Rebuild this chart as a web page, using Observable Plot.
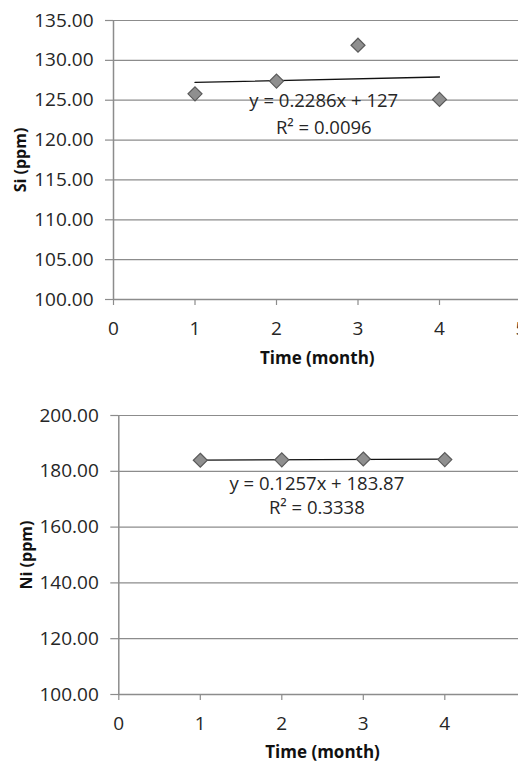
<!DOCTYPE html>
<html>
<head>
<meta charset="utf-8">
<script src="https://cdn.jsdelivr.net/npm/d3@7"></script>
<script src="https://cdn.jsdelivr.net/npm/@observablehq/plot@0.6"></script>
<style>
  html, body { margin: 0; padding: 0; background: #fff; overflow: hidden; width: 518px; }
  #wrap { width: 518px; overflow: hidden; }
  #wrap svg { display: block; max-width: none !important; height: auto; }
</style>
</head>
<body>
<div id="wrap"></div>
<script>
// ---- Data ----
const months = [1, 2, 3, 4];
const siValues = [125.8, 127.4, 131.9, 125.1];
const niValues = [183.95, 184.1, 184.4, 184.2];

const siTrend = { slope: 0.2286, intercept: 127 };
const niTrend = { slope: 0.1257, intercept: 183.87 };

const siLabels = ["y = 0.2286x + 127", "R² = 0.0096"];
const niLabels = ["y = 0.1257x + 183.87", "R² = 0.3338"];

const siXTicks = [0, 1, 2, 3, 4, 5];
const niXTicks = [0, 1, 2, 3, 4];
const siTicks = [100, 105, 110, 115, 120, 125, 130, 135];
const niTicks = [100, 120, 140, 160, 180, 200];

// ---- Styles ----
const FONT = "'Open Sans', sans-serif";
const GRID = "#8c8c8c";
const TEXT = "#262626";

function makeChart(opts) {
  const pts = months.map((m, i) => ({ x: m, y: opts.values[i] }));
  const trend = [months[0], months[months.length - 1]].map(x => ({ x, y: opts.trend.slope * x + opts.trend.intercept }));
  const labels = opts.labels.map((t, i) => ({ text: t, x: opts.labelX, y: opts.labelY[i] }));
  return Plot.plot({
    width: opts.width,
    height: opts.height,
    marginLeft: opts.marginLeft,
    marginRight: opts.marginRight,
    marginTop: opts.marginTop,
    marginBottom: opts.marginBottom,
    style: { fontFamily: FONT, color: TEXT, background: "#fff", overflow: "visible", maxWidth: "none" },
    x: { domain: [0, 5] },
    y: { domain: opts.yDomain },
    marks: [
      Plot.gridY(opts.yTicks, { stroke: GRID, strokeOpacity: 1, strokeWidth: 1.2 }),
      Plot.axisY(opts.yTicks, {
        tickSize: 8, tickPadding: 12, stroke: GRID, strokeWidth: 1.2,
        tickFormat: d => d.toFixed(2), fontSize: 19, fill: TEXT, label: null
      }),
      Plot.axisX(opts.xTicks, {
        tickSize: 6, tickPadding: opts.xTickPadding, stroke: GRID, strokeWidth: 1.2,
        tickFormat: d => String(d), fontSize: 19, fill: TEXT, label: null
      }),
      Plot.ruleX([0], { stroke: GRID, strokeWidth: 1.5 }),
      Plot.ruleY([opts.yDomain[0]], { stroke: GRID, strokeWidth: 1.5 }),
      Plot.line(trend, { x: "x", y: "y", stroke: "#111", strokeWidth: 1.3 }),
      Plot.dot(pts, { x: "x", y: "y", symbol: "diamond2", r: 6.3, fill: "#8f8f8f", stroke: "#5a5a5a", strokeWidth: 1.2 }),
      Plot.text(labels, { x: "x", y: "y", text: "text", fontSize: 18.5, fill: TEXT, textAnchor: "middle" }),
      Plot.text([opts.yTitle], { frameAnchor: "left", dx: opts.yTitleDx, rotate: -90, textAnchor: "middle", lineAnchor: "middle", fontSize: 16, fontWeight: "bold", fill: "#111" }),
      Plot.text([opts.xTitle], { frameAnchor: "bottom", dy: opts.xTitleDy, textAnchor: "middle", lineAnchor: "middle", fontSize: 17, fontWeight: "bold", fill: "#111" })
    ]
  });
}

const chartSi = makeChart({
  values: siValues, trend: siTrend, labels: siLabels,
  labelX: 2.58, labelY: [124.85, 121.45],
  yDomain: [100, 135], yTicks: siTicks, xTicks: siXTicks,
  width: 522, height: 380, marginLeft: 113, marginRight: 1.5, marginTop: 20, marginBottom: 81,
  xTickPadding: 16, yTitle: "Si (ppm)", yTitleDx: -93, xTitle: "Time (month)", xTitleDy: 59
});
const chartNi = makeChart({
  values: niValues, trend: niTrend, labels: niLabels,
  labelX: 2.43, labelY: [175.3, 166.7],
  yDomain: [100, 200], yTicks: niTicks, xTicks: niXTicks,
  width: 527, height: 383, marginLeft: 118.3, marginRight: 1.2, marginTop: 35, marginBottom: 69,
  xTickPadding: 15.5, yTitle: "Ni (ppm)", yTitleDx: -92, xTitle: "Time (month)", xTitleDy: 58
});
document.getElementById("wrap").append(chartSi, chartNi);
</script>
</body>
</html>
